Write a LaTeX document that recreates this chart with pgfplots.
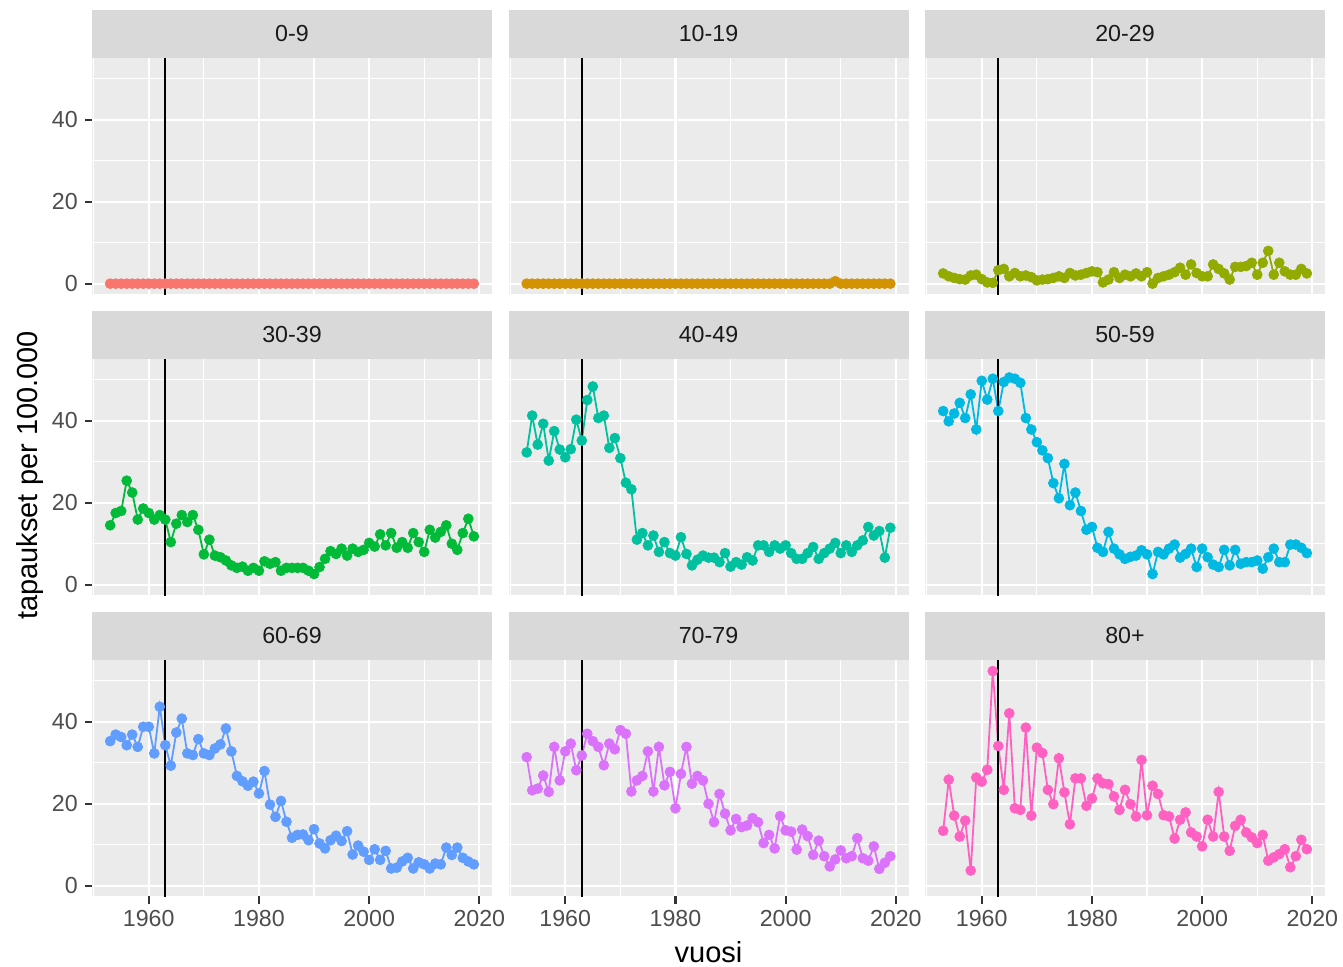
\documentclass[border=0pt]{standalone}
\usepackage{pgfplots}
\pgfplotsset{compat=1.18}
\usepackage{pgfplotstable}
\usepgfplotslibrary{groupplots}
\usepackage{fontspec}
\setmainfont{Liberation Sans}

\definecolor{c0}{HTML}{F8766D}
\definecolor{c1}{HTML}{D39200}
\definecolor{c2}{HTML}{93AA00}
\definecolor{c3}{HTML}{00BA38}
\definecolor{c4}{HTML}{00C19F}
\definecolor{c5}{HTML}{00B9E3}
\definecolor{c6}{HTML}{619CFF}
\definecolor{c7}{HTML}{DB72FB}
\definecolor{c8}{HTML}{FF61C3}
\definecolor{bgpanel}{HTML}{EBEBEB}
\definecolor{stripgray}{HTML}{D9D9D9}
\definecolor{gray20}{HTML}{333333}
\definecolor{gray30}{HTML}{4D4D4D}
\definecolor{gray10}{HTML}{1A1A1A}

\pgfplotstableread{
year a0 a10 a20 a30 a40 a50 a60 a70 a80
1953 0 0 2.5 14.5 32.3 42.4 35.3 31.4 13.4
1954 0 0 1.8 17.5 41.3 39.9 36.9 23.3 25.9
1955 0 0 1.4 18.0 34.2 41.8 36.3 23.7 17.1
1956 0 0 1.1 25.4 39.3 44.4 34.3 26.9 12.0
1957 0 0 1.0 22.5 30.3 40.7 36.9 22.9 15.9
1958 0 0 2.0 15.9 37.5 46.5 33.9 33.9 3.7
1959 0 0 2.2 18.6 33.0 37.9 38.8 25.7 26.4
1960 0 0 1.1 17.5 31.1 49.8 38.8 32.8 25.4
1961 0 0 0.3 15.9 33.1 45.2 32.3 34.7 28.3
1962 0 0 0.2 17.0 40.3 50.3 43.7 28.2 52.4
1963 0 0 3.3 15.9 35.2 42.4 34.3 31.8 34.1
1964 0 0 3.6 10.4 45.1 49.5 29.3 37.1 23.4
1965 0 0 1.8 14.9 48.4 50.6 37.4 35.3 42.1
1966 0 0 2.6 17.0 40.7 50.3 40.8 33.9 18.9
1967 0 0 1.8 15.3 41.3 49.3 32.3 29.4 18.5
1968 0 0 2.0 17.0 33.4 40.7 31.9 34.7 38.6
1969 0 0 1.6 13.4 35.8 37.9 35.8 33.3 17.1
1970 0 0 0.8 7.4 30.9 34.8 32.3 38.0 33.7
1971 0 0 1.0 11.0 24.9 32.8 31.9 37.1 32.4
1972 0 0 1.1 7.1 23.3 30.9 33.5 23.0 23.4
1973 0 0 1.4 6.7 11.0 24.8 34.5 25.7 19.9
1974 0 0 1.8 5.9 12.6 21.1 38.4 26.8 31.1
1975 0 0 1.4 4.7 9.6 29.5 32.8 32.8 22.8
1976 0 0 2.6 4.1 12.0 19.4 26.8 23.0 15.0
1977 0 0 2.0 4.4 8.0 22.5 25.5 33.9 26.2
1978 0 0 2.2 3.4 10.4 18.0 24.4 24.5 26.2
1979 0 0 2.6 4.1 7.7 13.4 25.4 27.8 19.5
1980 0 0 3.0 3.4 7.1 14.1 22.5 18.9 21.3
1981 0 0 2.8 5.7 11.6 9.0 28.0 27.3 26.2
1982 0 0 0.3 5.1 7.5 8.0 19.8 33.9 25.0
1983 0 0 1.0 5.5 4.7 12.9 16.8 24.9 24.8
1984 0 0 2.8 3.4 6.1 8.8 20.7 26.8 21.8
1985 0 0 1.4 4.1 7.1 7.4 15.6 25.7 18.5
1986 0 0 2.2 4.1 6.6 6.3 11.7 20.0 23.4
1987 0 0 1.8 4.1 6.6 6.8 12.4 15.5 19.9
1988 0 0 2.5 4.1 5.5 7.1 12.5 22.4 16.9
1989 0 0 1.8 3.4 7.7 8.4 11.1 17.6 30.7
1990 0 0 2.8 2.6 4.4 7.4 13.8 13.5 17.2
1991 0 0 0.0 4.3 5.5 2.6 10.3 16.3 24.4
1992 0 0 1.4 6.3 4.9 8.0 9.1 14.3 22.4
1993 0 0 1.8 8.2 6.7 7.4 11.1 14.7 17.2
1994 0 0 2.2 7.5 5.9 8.8 12.2 16.5 16.9
1995 0 0 2.8 8.8 9.6 9.8 10.9 15.5 11.5
1996 0 0 3.9 7.1 9.6 6.6 13.3 10.4 16.1
1997 0 0 2.2 8.8 8.0 7.5 7.6 12.4 17.9
1998 0 0 4.7 8.0 9.6 8.8 9.8 9.1 13.0
1999 0 0 2.6 8.5 8.8 4.3 8.3 17.0 12.0
2000 0 0 1.8 10.2 9.6 8.8 6.3 13.5 9.6
2001 0 0 1.8 9.3 7.7 6.7 8.9 13.2 16.1
2002 0 0 4.7 12.3 6.3 4.9 6.3 8.8 12.0
2003 0 0 3.6 9.6 6.3 4.3 8.5 13.7 22.9
2004 0 0 2.5 12.6 7.7 8.5 4.2 12.1 12.0
2005 0 0 1.0 9.0 9.2 4.7 4.4 7.5 8.5
2006 0 0 4.1 10.4 6.3 8.5 5.9 11.0 14.6
2007 0 0 4.1 9.0 7.7 5.1 6.8 7.2 16.1
2008 0 0 4.3 12.6 8.8 5.5 4.2 4.7 13.0
2009 0 0.6 5.1 10.4 10.2 5.5 5.7 6.4 11.8
2010 0 0 2.2 8.0 7.7 5.9 5.2 8.6 10.4
2011 0 0 5.1 13.4 9.6 3.9 4.2 6.7 12.4
2012 0 0 8.0 11.5 8.0 6.7 5.4 7.2 6.1
2013 0 0 2.2 12.9 9.6 8.8 5.2 11.6 6.9
2014 0 0 5.1 14.5 10.8 5.5 9.3 6.7 7.7
2015 0 0 3.0 10.0 14.1 5.5 7.5 6.1 8.9
2016 0 0 2.2 8.5 12.0 9.8 9.3 9.6 4.5
2017 0 0 2.2 12.6 13.1 9.8 6.8 4.1 7.2
2018 0 0 3.6 16.1 6.6 9.0 5.9 5.6 11.2
2019 0 0 2.5 11.8 13.9 7.7 5.2 7.2 8.9
}\datatable

\newcommand{\panel}[4]{%
  \nextgroupplot[title={#1},#4]
  \addplot[#3, line width=0.9pt, mark=*, mark size=2.5pt,
    mark options={fill=#3, draw=#3, line width=0.3pt}] table[x=year, y=#2] {\datatable};
  \addplot[black, line width=0.8pt] coordinates {(1963,-10) (1963,70)};
}

\begin{document}
\begin{tikzpicture}
\begin{groupplot}[
  group style={group size=3 by 3, horizontal sep=8.25pt, vertical sep=32.5pt,
    xticklabels at=edge bottom, yticklabels at=edge left},
  scale only axis, width=200pt, height=118pt,
  xmin=1949.7, xmax=2022.3, ymin=-2.62, ymax=55.02,
  xtick={1960,1980,2000,2020}, minor xtick={1950,1970,1990,2010},
  ytick={0,20,40}, minor ytick={10,30,50},
  axis lines*=left, axis line style={draw=none},
  grid=both,
  major grid style={white, line width=1.1pt},
  minor grid style={white, line width=0.55pt},
  axis background/.style={fill=bgpanel},
  tick align=outside, major tick length=3.6pt, minor tick length=0pt,
  xtick style={draw=none}, ytick style={draw=none},
  tick label style={font=\fontsize{11.6}{13}\selectfont, text=gray30},
  /pgf/number format/assume math mode=true,
  /pgf/number format/1000 sep={},
  every axis title/.style={at={(0.5,1)}, anchor=south, fill=stripgray,
    minimum width=200pt, minimum height=24pt, inner sep=0pt, text=gray10,
    font=\fontsize{11.6}{13}\selectfont},
]
\panel{0-9}{a0}{c0}{ytick style={draw=gray20, line width=1.1pt}}
\panel{10-19}{a10}{c1}{}
\panel{20-29}{a20}{c2}{}
\panel{30-39}{a30}{c3}{ytick style={draw=gray20, line width=1.1pt}}
\panel{40-49}{a40}{c4}{}
\panel{50-59}{a50}{c5}{}
\panel{60-69}{a60}{c6}{ytick style={draw=gray20, line width=1.1pt}, xtick style={draw=gray20, line width=1.1pt}}
\panel{70-79}{a70}{c7}{xtick style={draw=gray20, line width=1.1pt}}
\panel{80+}{a80}{c8}{xtick style={draw=gray20, line width=1.1pt}}
\end{groupplot}
\node[rotate=90, inner sep=1pt, font=\fontsize{14.5}{16}\selectfont] at ([xshift=-31pt, yshift=1pt]group c1r2.west) {tapaukset per 100.000};
\node[inner sep=1pt, font=\fontsize{14.5}{16}\selectfont] at ([yshift=-28pt]group c2r3.south) {vuosi};
\pgfresetboundingbox
\path[use as bounding box] ([xshift=-46pt, yshift=29.2pt]group c1r1.north west) rectangle ([xshift=9pt, yshift=-35.3pt]group c3r3.south east);
\end{tikzpicture}
\end{document}
